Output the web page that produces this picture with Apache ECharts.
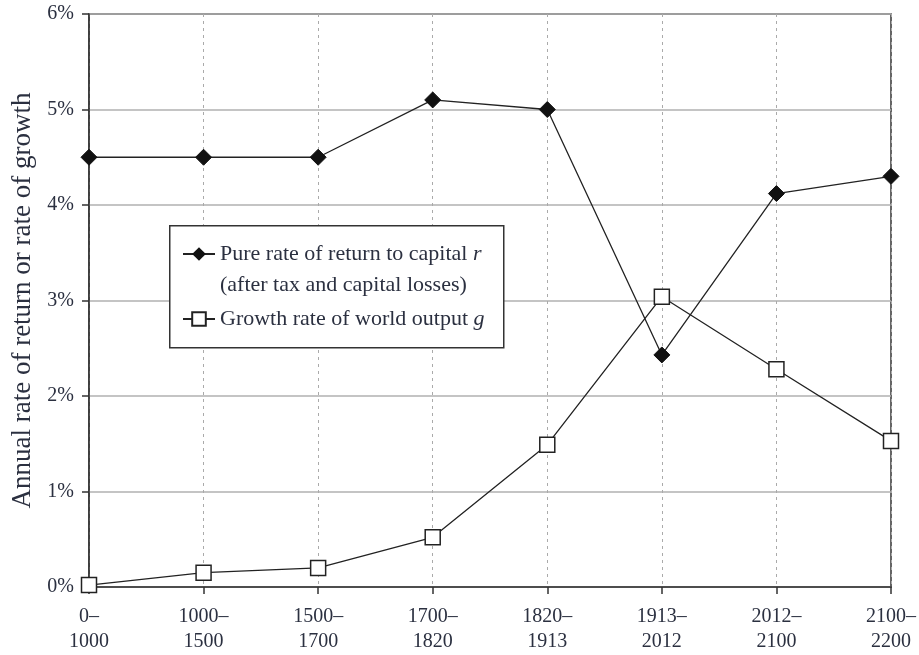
<!DOCTYPE html>
<html><head><meta charset="utf-8">
<script src="https://cdn.jsdelivr.net/npm/echarts@6/dist/echarts.min.js"></script>
<style>html,body{margin:0;padding:0;background:#fff}#c{width:919px;height:655px}</style>
</head><body><div id="c"></div>
<script>
const categories = ['0–\n1000','1000–\n1500','1500–\n1700','1700–\n1820','1820–\n1913','1913–\n2012','2012–\n2100','2100–\n2200'];
const returnToCapital = [4.5, 4.5, 4.5, 5.1, 5.0, 2.43, 4.12, 4.30];
const growthRate = [0.02, 0.15, 0.2, 0.52, 1.49, 3.04, 2.28, 1.53];
const yTicks = [0, 1, 2, 3, 4, 5, 6];

const FONT = 'Liberation Serif';
const TXT = '#2b3040';
const chart = echarts.init(document.getElementById('c'));
chart.setOption({
  animation: false,
  textStyle: {fontFamily: FONT},
  grid: {left: 89, right: 28, top: 14, bottom: 68, show: true, borderColor: '#333', borderWidth: 1.5, backgroundColor: 'transparent'},
  xAxis: {
    type: 'category', data: categories, boundaryGap: false,
    axisLine: {lineStyle: {color: '#333', width: 1.5}},
    axisTick: {show: true, length: 7, lineStyle: {color: '#333', width: 1.5}},
    axisLabel: {color: TXT, fontFamily: FONT, fontSize: 20, lineHeight: 25, margin: 17},
    splitLine: {show: true, lineStyle: {color: '#aaa', type: [3, 4], width: 1}}
  },
  yAxis: {
    type: 'value', min: yTicks[0], max: yTicks[yTicks.length-1], interval: 1,
    name: 'Annual rate of return or rate of growth', nameLocation: 'middle', nameGap: 48,
    nameTextStyle: {color: TXT, fontFamily: FONT, fontSize: 27},
    axisLine: {show: true, lineStyle: {color: '#333', width: 1.5}},
    axisTick: {show: true, length: 7, lineStyle: {color: '#333', width: 1.5}},
    axisLabel: {color: TXT, fontFamily: FONT, fontSize: 20, margin: 15, padding: [5, 0, 0, 0], formatter: '{value}%'},
    splitLine: {show: true, lineStyle: {color: '#b0b0b0', width: 1.5}}
  },
  graphic: [{type: 'rect', left: 169, top: 225, z: 3,
    shape: {width: 334, height: 122},
    style: {fill: '#fff', stroke: '#333', lineWidth: 1.5}}],
  legend: {
    orient: 'vertical', left: 182, top: 212, padding: 0, itemGap: 12, z: 5,
    itemWidth: 32, itemHeight: 17, selectedMode: false,
    data: ['r', 'g'],
    formatter: function (name) {
      if (name === 'r') return '{a| }\n{a|Pure rate of return to capital }{i|r}\n{a|(after tax and capital losses)}';
      return '{a|Growth rate of world output }{i|g}';
    },
    textStyle: {
      color: TXT, fontFamily: FONT, fontSize: 22,
      rich: {
        a: {fontFamily: FONT, fontSize: 22, lineHeight: 31, color: TXT},
        i: {fontFamily: FONT, fontSize: 22, lineHeight: 31, fontStyle: 'italic', color: TXT}
      }
    }
  },
  series: [
    {name: 'r', type: 'line', data: returnToCapital, symbol: 'diamond', symbolSize: 16,
     lineStyle: {color: '#222', width: 1.3}, itemStyle: {color: '#111', borderColor: '#111'}, z: 3},
    {name: 'g', type: 'line', data: growthRate, symbol: 'rect', symbolSize: 15,
     lineStyle: {color: '#222', width: 1.3}, itemStyle: {color: '#fff', borderColor: '#222', borderWidth: 1.5}, z: 4}
  ]
});
</script></body></html>
